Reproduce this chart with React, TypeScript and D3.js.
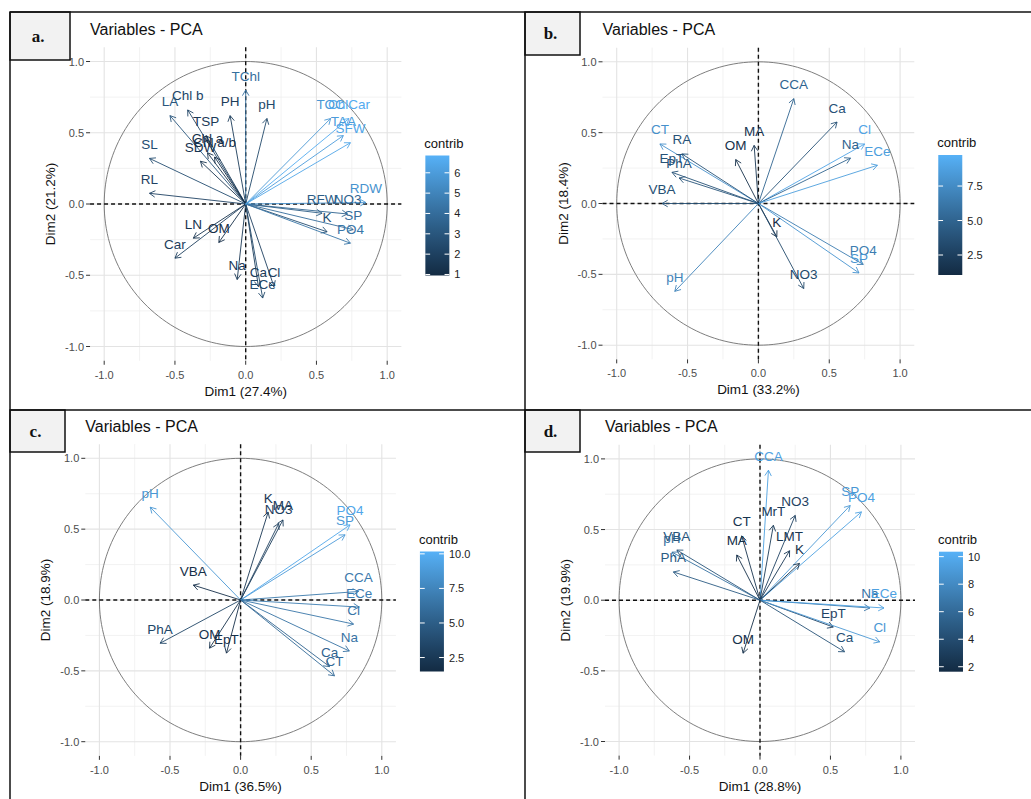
import React from 'react';
import * as d3 from 'd3';

// ---------- Panel a ----------
const aVars = ['TChl', 'pH', 'PH', 'Chl b', 'LA', 'TSP', 'Chl a', 'Chl a/b', 'SDW', 'SL', 'RL', 'LN', 'Car', 'OM', 'Na', 'Ca', 'Cl', 'ECe', 'RFW', 'NO3', 'K', 'SP', 'PO4', 'RDW', 'TOC', 'ChlCar', 'TAA', 'SFW'];
const aDim1 = [0.0, 0.15, -0.11, -0.41, -0.535, -0.28, -0.27, -0.22, -0.32, -0.68, -0.68, -0.37, -0.5, -0.19, -0.06, 0.09, 0.2, 0.12, 0.54, 0.72, 0.575, 0.76, 0.74, 0.85, 0.6, 0.73, 0.69, 0.74];
const aDim2 = [0.8, 0.6, 0.62, 0.66, 0.62, 0.48, 0.36, 0.33, 0.3, 0.32, 0.075, -0.24, -0.38, -0.27, -0.53, -0.58, -0.58, -0.66, -0.065, -0.07, -0.195, -0.18, -0.275, 0.01, 0.6, 0.6, 0.48, 0.43];
const aContrib = [4.1, 2.4, 1.8, 2.2, 3.0, 1.7, 1.3, 1.1, 1.4, 2.6, 2.1, 1.4, 1.9, 1.1, 1.6, 1.8, 2.0, 2.4, 3.3, 3.6, 2.6, 4.0, 4.4, 5.6, 5.8, 6.6, 6.0, 6.4];
const aRange = [0.95, 6.85];
const aTicks = [1, 2, 3, 4, 5, 6];
const aTickLabels = ['1', '2', '3', '4', '5', '6'];

// ---------- Panel b ----------
const bVars = ['CCA', 'Ca', 'Cl', 'Na', 'ECe', 'MA', 'OM', 'CT', 'RA', 'EpT', 'PhA', 'VBA', 'pH', 'K', 'NO3', 'PO4', 'SP'];
const bDim1 = [0.25, 0.555, 0.75, 0.65, 0.84, -0.03, -0.16, -0.695, -0.54, -0.61, -0.56, -0.68, -0.59, 0.13, 0.32, 0.74, 0.71];
const bDim2 = [0.74, 0.575, 0.42, 0.32, 0.27, 0.41, 0.31, 0.42, 0.35, 0.22, 0.18, 0.0, -0.62, -0.235, -0.6, -0.43, -0.49];
const bContrib = [5.0, 3.8, 9.0, 5.0, 8.6, 1.8, 1.5, 7.8, 3.8, 3.8, 4.0, 3.6, 7.0, 1.2, 3.2, 6.6, 8.0];
const bRange = [1.05, 9.75];
const bTicks = [2.5, 5, 7.5];
const bTickLabels = ['2.5', '5.0', '7.5'];

// ---------- Panel c ----------
const cVars = ['pH', 'K', 'MA', 'NO3', 'PO4', 'SP', 'VBA', 'CCA', 'ECe', 'Cl', 'Na', 'Ca', 'CT', 'PhA', 'OM', 'EpT'];
const cDim1 = [-0.64, 0.195, 0.3, 0.27, 0.775, 0.74, -0.335, 0.835, 0.84, 0.8, 0.77, 0.63, 0.665, -0.57, -0.22, -0.1];
const cDim2 = [0.655, 0.62, 0.565, 0.54, 0.53, 0.46, 0.105, 0.06, -0.05, -0.17, -0.36, -0.47, -0.535, -0.305, -0.34, -0.375];
const cContrib = [8.6, 2.4, 2.8, 3.0, 9.6, 8.8, 1.8, 6.8, 7.0, 6.6, 6.4, 5.4, 5.8, 3.4, 2.0, 1.8];
const cRange = [1.49, 10.17];
const cTicks = [2.5, 5, 7.5, 10];
const cTickLabels = ['2.5', '5.0', '7.5', '10.0'];

// ---------- Panel d ----------
const dVars = ['CCA', 'SP', 'PO4', 'NO3', 'MrT', 'CT', 'MA', 'LMT', 'K', 'pH', 'VBA', 'PhA', 'Na', 'ECe', 'EpT', 'Cl', 'Ca', 'OM'];
const dDim1 = [0.06, 0.64, 0.72, 0.25, 0.095, -0.13, -0.165, 0.21, 0.28, -0.625, -0.59, -0.615, 0.78, 0.88, 0.52, 0.85, 0.6, -0.12];
const dDim2 = [0.92, 0.67, 0.625, 0.6, 0.53, 0.455, 0.32, 0.35, 0.26, 0.34, 0.355, 0.2, -0.055, -0.055, -0.19, -0.295, -0.365, -0.375];
const dContrib = [9.4, 8.8, 9.4, 3.3, 2.8, 2.3, 2.0, 2.5, 2.2, 6.4, 4.6, 5.0, 6.6, 9.4, 3.4, 8.8, 4.4, 2.0];
const dRange = [1.64, 10.36];
const dTicks = [2, 4, 6, 8, 10];
const dTickLabels = ['2', '4', '6', '8', '10'];

const axisTicks = [-1, -0.5, 0, 0.5, 1];
const axisTickLabels = ['-1.0', '-0.5', '0.0', '0.5', '1.0'];
const minorTicks = [-0.75, -0.25, 0.25, 0.75];

const LOW = '#132B43';
const HIGH = '#56B1F7';
const FONT = '"Liberation Sans", Arial, Helvetica, sans-serif';

type PanelDef = {
  key: string;
  letter: string;
  vars: string[];
  d1: number[];
  d2: number[];
  contrib: number[];
  range: number[];
  ticks: number[];
  tickLabels: string[];
  dim1: string;
  dim2: string;
  x0: number;
  y0: number;
  ux: number;
  uy: number;
  box: { x: number; y: number; w: number; h: number };
};

const panels: PanelDef[] = [
  { key: 'a', letter: 'a.', vars: aVars, d1: aDim1, d2: aDim2, contrib: aContrib, range: aRange, ticks: aTicks, tickLabels: aTickLabels,
    dim1: 'Dim1 (27.4%)', dim2: 'Dim2 (21.2%)', x0: 245.7, y0: 204, ux: 141.5, uy: 142.5, box: { x: 10, y: 12, w: 60, h: 48 } },
  { key: 'b', letter: 'b.', vars: bVars, d1: bDim1, d2: bDim2, contrib: bContrib, range: bRange, ticks: bTicks, tickLabels: bTickLabels,
    dim1: 'Dim1 (33.2%)', dim2: 'Dim2 (18.4%)', x0: 758.4, y0: 203.5, ux: 141.7, uy: 141.7, box: { x: 525, y: 12, w: 55, h: 43 } },
  { key: 'c', letter: 'c.', vars: cVars, d1: cDim1, d2: cDim2, contrib: cContrib, range: cRange, ticks: cTicks, tickLabels: cTickLabels,
    dim1: 'Dim1 (36.5%)', dim2: 'Dim2 (18.9%)', x0: 240.6, y0: 600, ux: 141.2, uy: 141.7, box: { x: 10, y: 410, w: 55, h: 42 } },
  { key: 'd', letter: 'd.', vars: dVars, d1: dDim1, d2: dDim2, contrib: dContrib, range: dRange, ticks: dTicks, tickLabels: dTickLabels,
    dim1: 'Dim1 (28.8%)', dim2: 'Dim2 (19.9%)', x0: 760, y0: 600.2, ux: 140.9, uy: 141.3, box: { x: 525, y: 410, w: 55, h: 42 } },
];

function Panel({ p }: { p: PanelDef }) {
  const x = d3.scaleLinear().domain([-1.1, 1.1]).range([p.x0 - 1.1 * p.ux, p.x0 + 1.1 * p.ux]);
  const y = d3.scaleLinear().domain([-1.1, 1.1]).range([p.y0 + 1.1 * p.uy, p.y0 - 1.1 * p.uy]);
  const color = d3.scaleLinear<string>().domain(p.range).range([LOW, HIGH]).interpolate(d3.interpolateLab);
  const left = x(-1.1), right = x(1.1), top = y(1.1), bottom = y(-1.1);

  const circle = d3.range(0, 361, 2).map((a) => [x(Math.cos((a * Math.PI) / 180)), y(Math.sin((a * Math.PI) / 180))] as [number, number]);
  const circlePath = d3.line()(circle) || '';

  const legX = right + 23;
  const barY = p.y0 - 48.5;
  const barW = 24;
  const barH = 120;
  const leg = d3.scaleLinear().domain(p.range).range([barY + barH, barY]);
  const gradId = 'grad-' + p.key;
  const stops = d3.range(0, 1.0001, 0.1);

  const headLen = 6.5;
  const headAng = Math.PI / 6;

  return (
    <g>
      {minorTicks.map((t) => (
        <g key={'mn' + t}>
          <line x1={x(t)} x2={x(t)} y1={top} y2={bottom} stroke="#efefef" strokeWidth={0.8} />
          <line x1={left} x2={right} y1={y(t)} y2={y(t)} stroke="#efefef" strokeWidth={0.8} />
        </g>
      ))}
      {axisTicks.map((t) => (
        <g key={'mj' + t}>
          <line x1={x(t)} x2={x(t)} y1={top} y2={bottom} stroke="#e3e3e3" strokeWidth={1.1} />
          <line x1={left} x2={right} y1={y(t)} y2={y(t)} stroke="#e3e3e3" strokeWidth={1.1} />
        </g>
      ))}
      {axisTicks.map((t, i) => (
        <g key={'tk' + t}>
          <line x1={left - 4} x2={left} y1={y(t)} y2={y(t)} stroke="#333" strokeWidth={1} />
          <text x={left - 6} y={y(t) + 4} textAnchor="end" fontSize={11} fill="#4d4d4d" fontFamily={FONT}>{axisTickLabels[i]}</text>
          <line x1={x(t)} x2={x(t)} y1={bottom} y2={bottom + 4} stroke="#333" strokeWidth={1} />
          <text x={x(t)} y={bottom + 18} textAnchor="middle" fontSize={11} fill="#4d4d4d" fontFamily={FONT}>{axisTickLabels[i]}</text>
        </g>
      ))}
      <path d={circlePath} fill="none" stroke="#6f6f6f" strokeWidth={0.9} />
      <line x1={left} x2={right} y1={y(0)} y2={y(0)} stroke="#111" strokeWidth={1.4} strokeDasharray="4 3" />
      <line x1={x(0)} x2={x(0)} y1={top} y2={bottom} stroke="#111" strokeWidth={1.4} strokeDasharray="4 3" />
      {p.vars.map((v, i) => {
        const tx = x(p.d1[i]);
        const ty = y(p.d2[i]);
        const ox = x(0), oy = y(0);
        const ang = Math.atan2(ty - oy, tx - ox);
        const h1 = [tx - headLen * Math.cos(ang - headAng), ty - headLen * Math.sin(ang - headAng)];
        const h2 = [tx - headLen * Math.cos(ang + headAng), ty - headLen * Math.sin(ang + headAng)];
        const col = color(p.contrib[i]);
        return (
          <g key={v + i}>
            <line x1={ox} y1={oy} x2={tx} y2={ty} stroke={col} strokeWidth={0.9} />
            <polyline points={`${h1[0]},${h1[1]} ${tx},${ty} ${h2[0]},${h2[1]}`} fill="none" stroke={col} strokeWidth={0.9} />
          </g>
        );
      })}
      {p.vars.map((v, i) => (
        <text key={'l' + v + i} x={x(p.d1[i])} y={y(p.d2[i]) - 9.5} textAnchor="middle" fontSize={13.5} fill={color(p.contrib[i])} fontFamily={FONT}>{v}</text>
      ))}
      <text x={left} y={top - 12.5} fontSize={16} fill="#111" fontFamily={FONT}>Variables - PCA</text>
      <text x={p.x0} y={bottom + 35} textAnchor="middle" fontSize={13.5} fill="#111" fontFamily={FONT}>{p.dim1}</text>
      <text transform={`translate(${left - 35},${p.y0}) rotate(-90)`} textAnchor="middle" fontSize={13.5} fill="#111" fontFamily={FONT}>{p.dim2}</text>
      <defs>
        <linearGradient id={gradId} x1="0" y1="1" x2="0" y2="0">
          {stops.map((s) => (
            <stop key={s} offset={s} stopColor={color(p.range[0] + s * (p.range[1] - p.range[0]))} />
          ))}
        </linearGradient>
      </defs>
      <text x={legX} y={barY - 8} fontSize={13} fill="#111" fontFamily={FONT}>contrib</text>
      <rect x={legX + 1} y={barY} width={barW} height={barH} fill={`url(#${gradId})`} />
      {p.ticks.map((t, i) => (
        <g key={'lt' + t}>
          <line x1={legX + 1} x2={legX + 1 + barW / 5} y1={leg(t)} y2={leg(t)} stroke="#fff" strokeWidth={1} />
          <line x1={legX + 1 + barW - barW / 5} x2={legX + 1 + barW} y1={leg(t)} y2={leg(t)} stroke="#fff" strokeWidth={1} />
          <text x={legX + barW + 6} y={leg(t) + 4} fontSize={11} fill="#222" fontFamily={FONT}>{p.tickLabels[i]}</text>
        </g>
      ))}
      <rect x={p.box.x} y={p.box.y} width={p.box.w} height={p.box.h} fill="#f2f2f2" stroke="#111" strokeWidth={1.5} />
      <text x={p.box.x + p.box.w / 2 - 2} y={p.box.y + p.box.h / 2 + 5.5} textAnchor="middle" fontSize={17} fontWeight="bold" fill="#111" fontFamily='"Liberation Serif", "Times New Roman", serif'>{p.letter}</text>
    </g>
  );
}

export default function App() {
  return (
    <svg width={1031} height={799} style={{ position: 'absolute', left: 0, top: 0, background: '#fff' }}>
      <rect x={0} y={0} width={1031} height={799} fill="#fff" />
      {panels.map((p) => (
        <Panel key={p.key} p={p} />
      ))}
      <line x1={10} x2={1031} y1={12} y2={12} stroke="#111" strokeWidth={1.5} />
      <line x1={10} x2={1031} y1={410} y2={410} stroke="#111" strokeWidth={1.5} />
      <line x1={10} x2={10} y1={12} y2={799} stroke="#111" strokeWidth={1.5} />
      <line x1={525} x2={525} y1={12} y2={799} stroke="#111" strokeWidth={1.5} />
    </svg>
  );
}
